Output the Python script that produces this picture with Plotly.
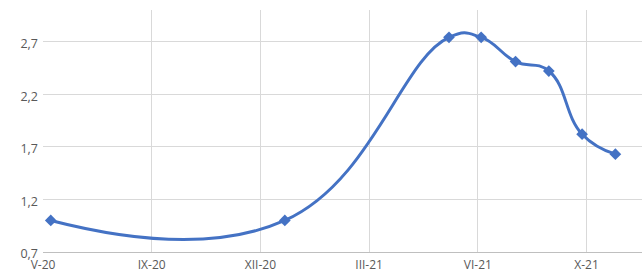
import plotly.graph_objects as go

dates = ["2020-06-07", "2021-01-04", "2021-06-01", "2021-06-30",
         "2021-07-31", "2021-08-30", "2021-09-29", "2021-10-29"]
values = [1.00, 1.00, 2.74, 2.74, 2.51, 2.42, 1.82, 1.63]

tick_dates = ["2020-05-31", "2020-09-06", "2020-12-13",
              "2021-03-21", "2021-06-27", "2021-10-03"]
tick_labels = ["V-20", "IX-20", "XII-20", "III-21", "VI-21", "X-21"]
y_ticks = [0.7, 1.2, 1.7, 2.2, 2.7]

fig = go.Figure()
fig.add_trace(go.Scatter(
    x=dates, y=values, mode="lines+markers",
    line=dict(color="#4472C4", width=3, shape="spline", smoothing=1.3),
    marker=dict(symbol="diamond", size=9, color="#4472C4"),
    showlegend=False, cliponaxis=False, hoverinfo="skip",
))

fig.update_layout(
    width=643, height=275,
    margin=dict(l=43, r=1, t=10, b=23),
    paper_bgcolor="white", plot_bgcolor="white",
    separators=", ",
    font=dict(family="Open Sans", size=12.5, color="#595959"),
    xaxis=dict(
        type="date", range=["2020-05-31", "2021-11-22"],
        tickvals=tick_dates, ticktext=tick_labels,
        showgrid=True, gridcolor="#D9D9D9", gridwidth=1,
        showline=True, linecolor="#BFBFBF", linewidth=1,
        ticks="", ticklen=0, zeroline=False, automargin=False,
        ticklabelstandoff=2, tickfont=dict(size=12),
    ),
    yaxis=dict(
        range=[0.7, 3.0], tickvals=y_ticks,
        ticktext=[f"{v:.1f}".replace(".", ",") for v in y_ticks],
        showgrid=True, gridcolor="#D9D9D9", gridwidth=1,
        showline=False, ticks="", zeroline=False, automargin=False,
        ticklabelstandoff=4, ticklabelshift=2,
    ),
)

fig.write_html("out.html", config={"displayModeBar": False, "staticPlot": True},
               post_script="document.body.style.margin='0';document.body.style.overflow='hidden';")
